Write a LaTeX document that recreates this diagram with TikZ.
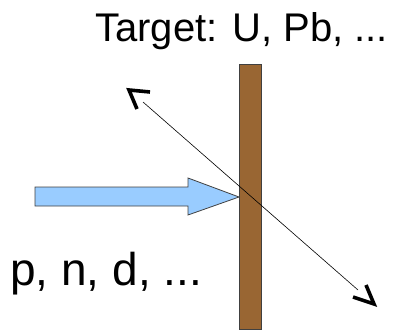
\documentclass[tikz,border=0pt]{standalone}
\usepackage{fontspec}
\setmainfont{Liberation Sans}
\usetikzlibrary{calc}
\definecolor{cBeam}{HTML}{99CCFF}
\definecolor{cFoil}{HTML}{996633}
\definecolor{edge}{HTML}{404040}
\tikzset{
  foil/.style={draw=edge,fill=cFoil,line width=0.8pt,minimum width=22pt,minimum height=265pt,inner sep=0pt},
  beam/.style={draw=edge,fill=cBeam,line width=0.8pt,line join=miter},
  ray/.style={line width=0.6pt},
  chevron/.style={line width=3.6pt,line cap=butt,line join=miter},
  lbl/.style={inner sep=0pt,anchor=base west}
}
\begin{document}
\begin{tikzpicture}[x=1pt,y=-1pt]
  \useasboundingbox (0,0) rectangle (401,331);
  % target foil
  \node[foil] (foil) at (250,196.5) {};
  \node[lbl,font=\fontsize{40}{40}\selectfont] (tlabel) at (95,41.5) {Target: U, Pb, ...};
  % incoming beam
  \coordinate (tip) at (239,197);
  \draw[beam] (35,187) -- (188,187) -- (188,178) -- (tip) -- (188,215) -- (188,206) -- (35,206) -- cycle;
  \node[lbl,font=\fontsize{46}{46}\selectfont] (plabel) at (10,285) {p, n, d, ...};
  % scattered particle
  \coordinate (back) at (143,102);
  \coordinate (fwd) at (358,290);
  \draw[ray] (back) -- (fwd);
  \draw[chevron] (150,92) -- (129,90) -- (137,109);
  \draw[chevron] (353,297) -- (374,304) -- (366,285);
\end{tikzpicture}
\end{document}
